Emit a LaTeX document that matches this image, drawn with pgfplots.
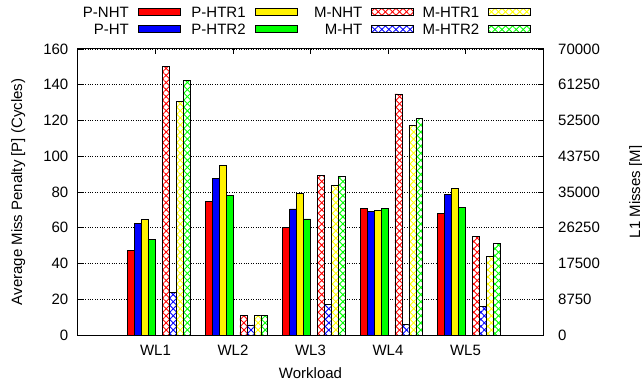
\documentclass[border=0pt]{standalone}
\usepackage{fontspec}
\setmainfont{Liberation Sans}
\usepackage{pgfplots}
\pgfplotsset{compat=1.18}
\usetikzlibrary{patterns.meta}
\pgfplotsset{
  pstyle/.style={draw=black, line width=0.8pt, fill=#1},
  mstyle/.style={draw=black, line width=0.8pt,
    preaction={fill=white},
    preaction={pattern={Lines[angle=45,distance=5pt,line width=0.9pt]}, pattern color=#1},
    preaction={pattern={Lines[angle=-45,distance=5pt,line width=0.9pt]}, pattern color=#1}},
  pbar/.style 2 args={ybar, bar width=0.09, bar shift=#2, pstyle=#1, forget plot},
  mbar/.style 2 args={ybar, bar width=0.09, bar shift=#2, mstyle=#1, forget plot},
  common/.style={
    at={(0pt,0pt)}, anchor=south west,
    scale only axis, width=465pt, height=286pt,
    xmin=0, xmax=6,
    tick align=inside, major tick length=5pt,
    tick style={black, line width=0.8pt},
    axis line style={black, line width=1pt},
    /pgf/number format/assume math mode=true,
  },
}
\begin{document}
\begin{tikzpicture}[font=\fontsize{15pt}{18pt}\selectfont]
\useasboundingbox (-78pt,-48pt) rectangle (564pt,335pt);
\begin{axis}[
  common,
  ymin=0, ymax=160,
  xtick={1,2,3,4,5}, xticklabels={WL1,WL2,WL3,WL4,WL5},
  xtick pos=both,
  ytick={0,20,...,160}, ytick pos=left,
  ymajorgrids, major grid style={black, dotted, line width=0.7pt},
  xlabel={Workload}, ylabel={Average Miss Penalty [P] (Cycles)},
  xlabel style={at={(axis description cs:0.5,-0.1129)}, anchor=north, inner sep=0pt},
  ylabel style={at={(axis description cs:-0.1441,0.5)}, anchor=north, inner sep=0pt},
  yticklabel style={inner sep=0pt, xshift=-9.5pt},
  xticklabel style={inner sep=0pt, yshift=-10pt},
]
% P-NHT
\addplot[pbar={red}{-0.315}] coordinates {(1,47.2) (2,74.8) (3,60.2) (4,70.9) (5,68.1)};
% P-HT
\addplot[pbar={blue}{-0.225}] coordinates {(1,62.5) (2,87.5) (3,70.5) (4,69.0) (5,78.7)};
% P-HTR1
\addplot[pbar={yellow}{-0.135}] coordinates {(1,64.7) (2,95.1) (3,79.4) (4,69.9) (5,81.8)};
% P-HTR2
\addplot[pbar={green}{-0.045}] coordinates {(1,53.5) (2,77.9) (3,64.9) (4,70.9) (5,71.6)};
\end{axis}
\begin{axis}[
  common,
  ymin=0, ymax=70000,
  axis x line=none, axis y line*=right,
  ytick={0,8750,...,70000},
  scaled y ticks=false,
  yticklabel style={/pgf/number format/fixed, /pgf/number format/1000 sep={}, anchor=west, inner sep=0pt, xshift=15pt},
  ylabel={L1 Misses [M]},
  ylabel style={at={(axis description cs:1.185,0.5)}, anchor=north, inner sep=0pt},
  legend columns=4, legend plot pos=right,
  legend style={at={(axis description cs:0.9742,1.1493)}, anchor=north east,
    draw=none, fill=none, inner sep=0pt, outer sep=0pt,
    row sep=3pt, column sep=0pt,
    /tikz/every even column/.append style={column sep=8pt},
    nodes={inner sep=0pt, text height=11pt, text depth=3pt}},
  legend image code/.code={\path (0pt,0pt); \draw[#1] (9pt,-2pt) rectangle (51pt,5pt);},
]
\addlegendimage{pstyle=red}\addlegendentry{\makebox[57pt][r]{P-NHT}}
\addlegendimage{pstyle=yellow}\addlegendentry{\makebox[57pt][r]{P-HTR1}}
\addlegendimage{mstyle=red}\addlegendentry{\makebox[57pt][r]{M-NHT}}
\addlegendimage{mstyle=yellow}\addlegendentry{\makebox[57pt][r]{M-HTR1}}
\addlegendimage{pstyle=blue}\addlegendentry{\makebox[57pt][r]{P-HT}}
\addlegendimage{pstyle=green}\addlegendentry{\makebox[57pt][r]{P-HTR2}}
\addlegendimage{mstyle=blue}\addlegendentry{\makebox[57pt][r]{M-HT}}
\addlegendimage{mstyle=green}\addlegendentry{\makebox[57pt][r]{M-HTR2}}
% M-NHT
\addplot[mbar={red}{0.135}] coordinates {(1,65800) (2,4800) (3,39100) (4,59000) (5,24100)};
% M-HT
\addplot[mbar={blue}{0.225}] coordinates {(1,10500) (2,2450) (3,7500) (4,2600) (5,7000)};
% M-HTR1
\addplot[mbar={yellow}{0.315}] coordinates {(1,57200) (2,4800) (3,36500) (4,51300) (5,19200)};
% M-HTR2
\addplot[mbar={green}{0.405}] coordinates {(1,62300) (2,4800) (3,38900) (4,53000) (5,22300)};
\end{axis}
\end{tikzpicture}
\end{document}
